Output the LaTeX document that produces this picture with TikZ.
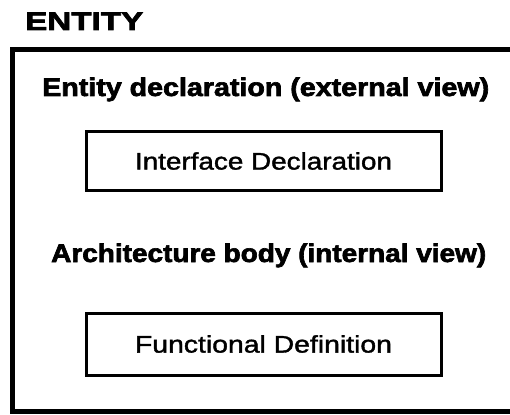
\documentclass[tikz,border=0pt]{standalone}
\usepackage{fontspec}
\setmainfont{Liberation Sans}
\usepackage{graphicx}
\newcommand{\wfit}[2]{\resizebox{#1}{\height}{#2}}
\begin{document}
\begin{tikzpicture}[x=1pt,y=-1pt,
  head/.style={anchor=base west, inner sep=0pt, font=\fontsize{25.5}{26}\selectfont\bfseries\addfontfeature{FakeBold=2.4}},
  innerbox/.style={draw, line width=3pt, minimum width=355pt, inner sep=0pt, font=\fontsize{24}{24}\selectfont\addfontfeature{FakeBold=1.4}},
  frame/.style={line width=5pt, line join=miter}]
\useasboundingbox (0,0) rectangle (510,414);
\draw[frame] (510,50) -- (12,50) -- (12,411) -- (510,411);
\node[head] (entity) at (25,30) {\wfit{118pt}{ENTITY}};
\node[head] (ext) at (42,96) {\wfit{447pt}{Entity declaration (external view)}};
\node[head] (int) at (51,262) {\wfit{435pt}{Architecture body (internal view)}};
\node[innerbox, minimum height=58pt] (iface) at (263.5,161) {\wfit{257pt}{Interface Declaration}};
\node[innerbox, minimum height=62pt] (func) at (263.5,344) {\wfit{257pt}{Functional Definition}};
\end{tikzpicture}
\end{document}
